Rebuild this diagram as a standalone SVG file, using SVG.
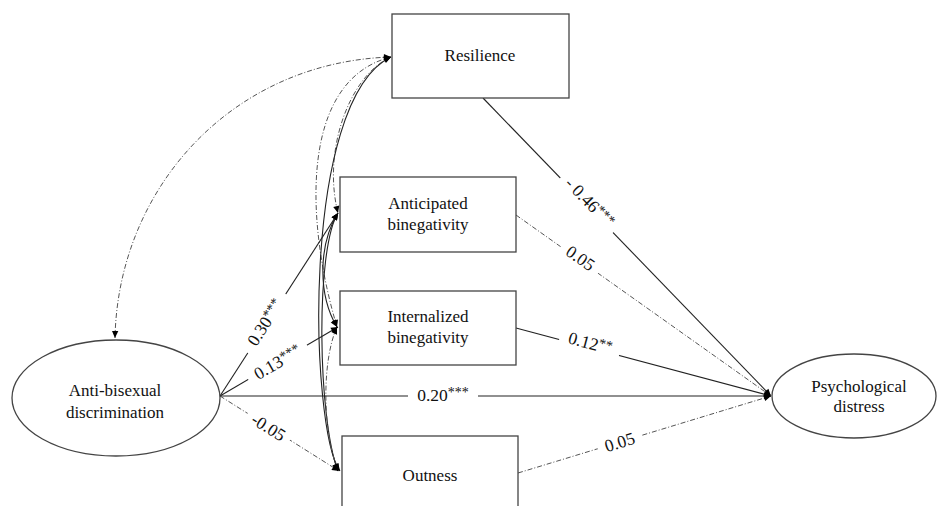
<svg xmlns="http://www.w3.org/2000/svg" width="938" height="506" viewBox="0 0 938 506">
<style>
.node{fill:#fff;stroke:#444;stroke-width:1.3}
text{font-family:'Liberation Serif','Times New Roman',serif;fill:#111;text-anchor:middle}
.t{font-size:17px}
.lbl{font-size:17.5px}
.sup{font-size:14px}
.solid{fill:none;stroke:#222;stroke-width:1.1}
.dd{fill:none;stroke:#555;stroke-width:1;stroke-dasharray:5 2 1 2}
.bg{fill:#fff}
</style>
<defs>
<marker id="ah" viewBox="0 0 10 10" refX="10" refY="5" markerWidth="9" markerHeight="7" markerUnits="userSpaceOnUse" orient="auto-start-reverse">
<path d="M0,0.5 L10,5 L0,9.5 z" fill="#000"/>
</marker>
</defs>
<g id="connectors">
<path class="dd" d="M115,338 C118,190 230,62 391,57" marker-start="url(#ah)" marker-end="url(#ah)"/>
<path class="dd" d="M391,57 C350,75 322,150 338,213" marker-start="url(#ah)" marker-end="url(#ah)"/>
<path class="dd" d="M391,57 C300,80 305,220 337,327" marker-start="url(#ah)" marker-end="url(#ah)"/>
<path class="solid" d="M391,57 C300,100 310,430 340,471" marker-start="url(#ah)" marker-end="url(#ah)"/>
<path class="solid" d="M338,213 C318,245 318,295 337,327" marker-start="url(#ah)" marker-end="url(#ah)"/>
<path class="solid" d="M338,213 C315,250 318,420 338,471" marker-start="url(#ah)" marker-end="url(#ah)"/>
<path class="dd" d="M337,327 C322,360 322,430 338,471" marker-start="url(#ah)" marker-end="url(#ah)"/>
<path class="solid" d="M220,396 L338,213" marker-end="url(#ah)"/>
<path class="solid" d="M220,396 L338,327" marker-end="url(#ah)"/>
<path class="dd" d="M220,396 L339,471" marker-end="url(#ah)"/>
<path class="solid" d="M220,396 L771,396" marker-end="url(#ah)"/>
<path class="solid" d="M483,98 L771,396" marker-end="url(#ah)"/>
<path class="dd" d="M516,215 L771,396" marker-end="url(#ah)"/>
<path class="solid" d="M516,328 L771,396" marker-end="url(#ah)"/>
<path class="dd" d="M518,473 L771,396" marker-end="url(#ah)"/>
<g transform="translate(266,323) rotate(-57)"><rect class="bg" x="-35" y="-9" width="70" height="18"/><text class="lbl" y="5">0.30<tspan class="sup" dy="-4">***</tspan></text></g>
<g transform="translate(278,363) rotate(-30)"><rect class="bg" x="-34" y="-9" width="68" height="18"/><text class="lbl" y="5">0.13<tspan class="sup" dy="-4">***</tspan></text></g>
<g transform="translate(268,428) rotate(32)"><rect class="bg" x="-25" y="-9" width="50" height="18"/><text class="lbl" y="5">-0.05</text></g>
<g transform="translate(443,396)"><rect class="bg" x="-35" y="-9" width="70" height="18"/><text class="lbl" y="5">0.20<tspan class="sup" dy="-4">***</tspan></text></g>
<g transform="translate(589,203) rotate(46)"><rect class="bg" x="-38" y="-9" width="76" height="18"/><text class="lbl" y="5">- 0.46<tspan class="sup" dy="-4">***</tspan></text></g>
<g transform="translate(580,259) rotate(35)"><rect class="bg" x="-23" y="-9" width="46" height="18"/><text class="lbl" y="5">0.05</text></g>
<g transform="translate(590,344) rotate(15)"><rect class="bg" x="-31" y="-9" width="62" height="18"/><text class="lbl" y="5">0.12<tspan class="sup" dy="-4">**</tspan></text></g>
<g transform="translate(620,443) rotate(-17)"><rect class="bg" x="-23" y="-9" width="46" height="18"/><text class="lbl" y="5">0.05</text></g>
</g>
<g id="resilience"><rect class="node" x="392" y="14" width="177" height="84"/><text class="t" x="480" y="61">Resilience</text></g>
<g id="anticipated"><rect class="node" x="340" y="177" width="176" height="75"/><text class="t" x="428" y="209">Anticipated</text><text class="t" x="428" y="230">binegativity</text></g>
<g id="internalized"><rect class="node" x="340" y="291" width="176" height="74"/><text class="t" x="428" y="322">Internalized</text><text class="t" x="428" y="343">binegativity</text></g>
<g id="outness"><rect class="node" x="342" y="436" width="176" height="80"/><text class="t" x="430" y="481">Outness</text></g>
<g id="anti-bisexual"><ellipse class="node" cx="116" cy="398" rx="104" ry="58"/><text class="t" x="115" y="396">Anti-bisexual</text><text class="t" x="115" y="418">discrimination</text></g>
<g id="distress"><ellipse class="node" cx="854" cy="396" rx="82" ry="42"/><text class="t" x="859" y="392">Psychological</text><text class="t" x="859" y="412">distress</text></g>
</svg>
